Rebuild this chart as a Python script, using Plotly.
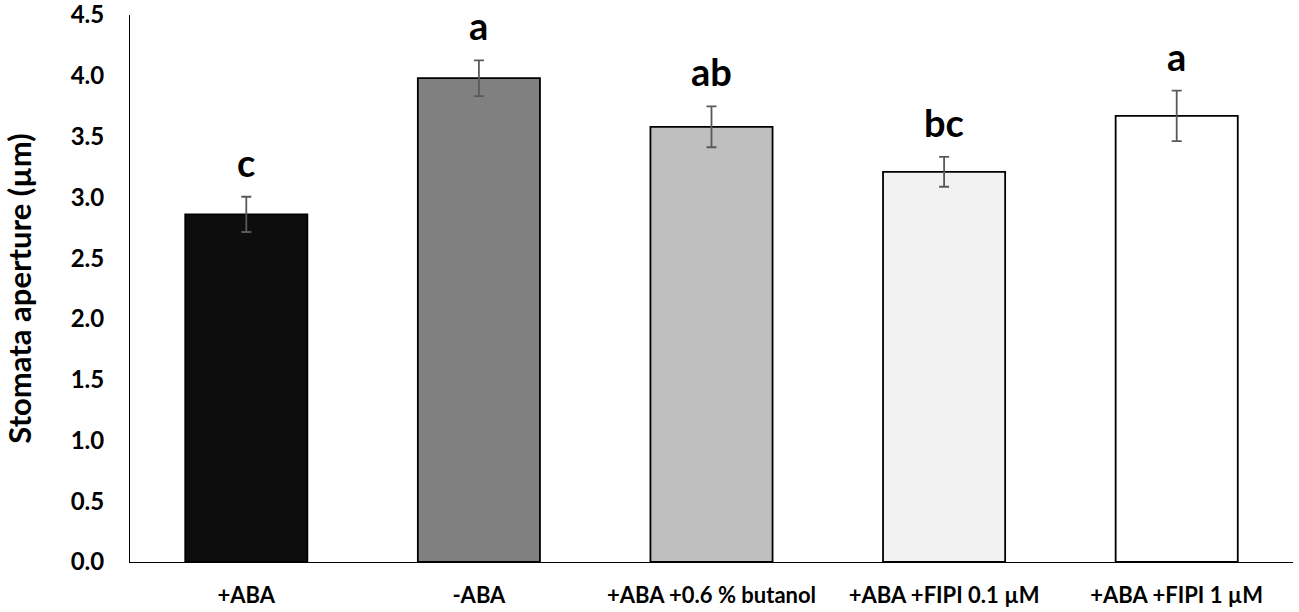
import plotly.graph_objects as go

treatments = ["+ABA", "-ABA", "+ABA +0.6 % butanol", "+ABA +FIPI 0.1 µM", "+ABA +FIPI 1 µM"]
aperture = [2.86, 3.98, 3.58, 3.21, 3.67]
sem = [0.145, 0.147, 0.168, 0.123, 0.208]
letters = ["c", "a", "ab", "bc", "a"]
bar_colors = ["#0d0d0d", "#808080", "#bfbfbf", "#f2f2f2", "#ffffff"]
y_ticks = [0.0, 0.5, 1.0, 1.5, 2.0, 2.5, 3.0, 3.5, 4.0, 4.5]

font_name = "Lato"

fig = go.Figure()
fig.add_trace(go.Bar(
    x=treatments,
    y=aperture,
    marker=dict(color=bar_colors, line=dict(color="#000000", width=1.8)),
    error_y=dict(type="data", array=sem, visible=True,
                 color="#595959", thickness=1.8, width=5),
))

for t, m, e, lab in zip(treatments, aperture, sem, letters):
    fig.add_annotation(x=t, y=m + e, text="<b>%s</b>" % lab, showarrow=False,
                       yanchor="bottom", yshift=10,
                       font=dict(family=font_name, size=38, color="#000000"))

fig.update_layout(
    width=1299, height=612,
    margin=dict(l=130, r=6, t=15, b=50),
    paper_bgcolor="white", plot_bgcolor="white",
    bargap=0.475,
    showlegend=False,
    font=dict(family=font_name, color="#000000"),
)
fig.update_xaxes(
    showline=True, linecolor="#000000", linewidth=1,
    ticks="", automargin=False, ticklabelstandoff=14,
    tickfont=dict(family=font_name, size=22, weight="bold"),
    showgrid=False,
)
fig.update_yaxes(
    range=[0, 4.5001], tickvals=y_ticks, tickformat=".1f",
    showline=True, linecolor="#000000", linewidth=1,
    ticks="", showgrid=False, zeroline=False, automargin=False,
    ticklabelstandoff=20, ticklabeloverflow="allow",
    tickfont=dict(family=font_name, size=24, weight="bold"),
    title=dict(text="<b>Stomata aperture (µm)</b>", standoff=34,
               font=dict(family=font_name, size=31)),
)

fig.write_html("out.html", config={"displayModeBar": False},
               post_script="document.body.style.margin='0';")
